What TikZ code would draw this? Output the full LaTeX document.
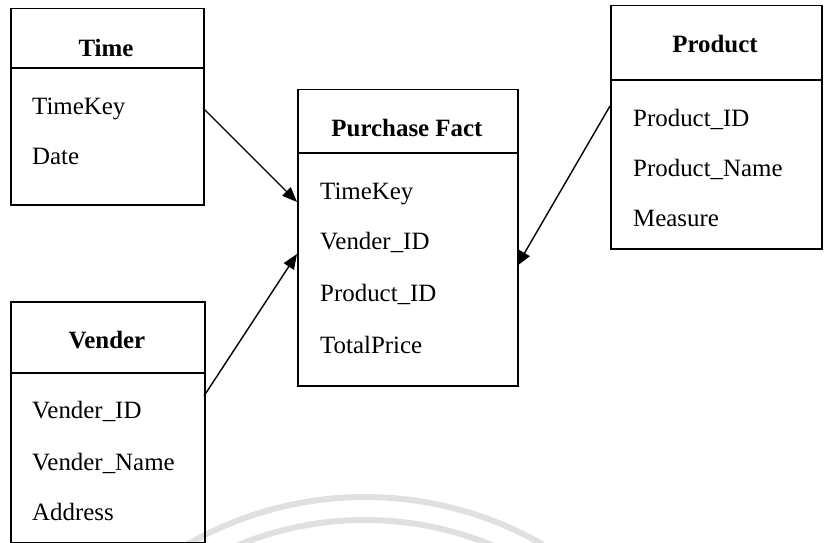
\documentclass[tikz,border=0pt]{standalone}
\usepackage{fontspec}
\setmainfont{Liberation Serif}
\usetikzlibrary{arrows.meta}
\begin{document}
\begin{tikzpicture}[x=1bp,y=-1bp,
  tbl/.style={draw, line width=1.5bp, inner sep=0pt, anchor=north west},
  divl/.style={line width=1.5bp},
  hdr/.style={font=\fontsize{25}{29}\selectfont\bfseries, anchor=base, inner sep=0pt},
  fld/.style={font=\fontsize{25}{29}\selectfont, anchor=base west, inner sep=0pt},
  link/.style={line width=1.4bp, -{Triangle[length=15bp,width=12bp]}},
  wmark/.style={line width=6bp, draw=black!12}]
\useasboundingbox (0,0) rectangle (827,543);
% watermark arcs
\draw[wmark] (365,853) ++(-120:356) arc[start angle=-120, end angle=-60, radius=356];
\draw[wmark] (365,853) ++(-113:333) arc[start angle=-113, end angle=-67, radius=333];
% Time
\node[tbl, minimum width=193bp, minimum height=196bp] (time) at (10,8) {};
\draw[divl] (10,68) -- (203,68);
\node[hdr] (timeh) at (106,57) {Time};
\node[fld] (t1) at (32,115) {TimeKey};
\node[fld] (t2) at (32,165) {Date};
% Vender
\node[tbl, minimum width=194bp, minimum height=241bp] (vender) at (10,301) {};
\draw[divl] (10,373) -- (204,373);
\node[hdr] (venderh) at (107,348) {Vender};
\node[fld] (v1) at (32,418) {Vender\_ID};
\node[fld] (v2) at (32,470) {Vender\_Name};
\node[fld] (v3) at (32,520) {Address};
% Purchase Fact
\node[tbl, minimum width=220bp, minimum height=296bp] (fact) at (297,89) {};
\draw[divl] (297,153) -- (517,153);
\node[hdr] (facth) at (407,137) {Purchase Fact};
\node[fld] (f1) at (320,200) {TimeKey};
\node[fld] (f2) at (320,250) {Vender\_ID};
\node[fld] (f3) at (320,302) {Product\_ID};
\node[fld] (f4) at (320,353) {TotalPrice};
% Product
\node[tbl, minimum width=211bp, minimum height=243bp] (product) at (610,5) {};
\draw[divl] (610,80) -- (821,80);
\node[hdr] (producth) at (715,53) {Product};
\node[fld] (p1) at (633,127) {Product\_ID};
\node[fld] (p2) at (633,177) {Product\_Name};
\node[fld] (p3) at (633,227) {Measure};
% connector end points on box borders
\coordinate (tS) at (203,108);
\coordinate (tE) at (297,202);
\coordinate (vS) at (204,396);
\coordinate (vE) at (297,254);
\coordinate (pS) at (610,106);
\coordinate (pE) at (517,266);
\draw[link] (tS) -- (tE);
\draw[link] (vS) -- (vE);
\draw[link] (pS) -- (pE);
\end{tikzpicture}
\end{document}
